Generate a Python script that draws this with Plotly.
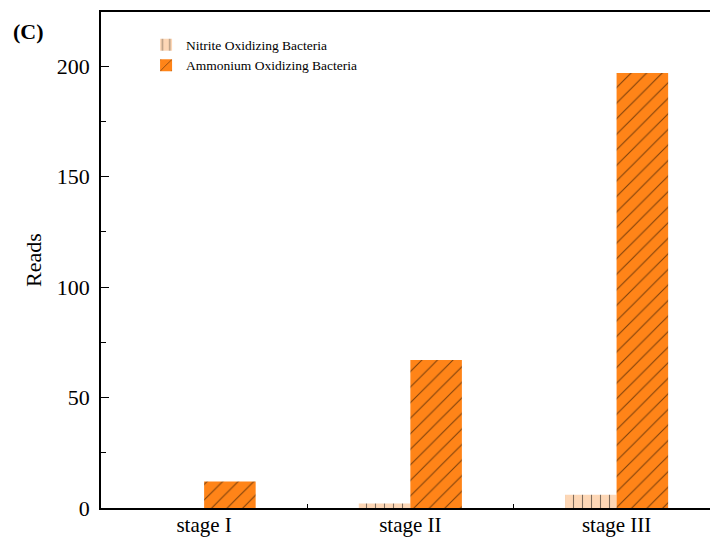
import plotly.graph_objects as go

# Sequencing reads of nitrifying groups across the three operating stages
stages = ["stage I", "stage II", "stage III"]
nob_reads = [0, 2, 6]        # Nitrite Oxidizing Bacteria
aob_reads = [12, 67, 197]    # Ammonium Oxidizing Bacteria
y_ticks = [0, 50, 100, 150, 200]

SERIF = "Liberation Serif, Times New Roman, serif"
PEACH = "#FDD7B6"
ORANGE = "#FF8418"

fig = go.Figure()
fig.add_trace(go.Bar(
    x=stages, y=nob_reads, name="Nitrite Oxidizing Bacteria",
    marker=dict(color=PEACH, line=dict(width=0),
                pattern=dict(shape="|", fgcolor="black", size=9, solidity=0.12)),
))
fig.add_trace(go.Bar(
    x=stages, y=aob_reads, name="Ammonium Oxidizing Bacteria",
    marker=dict(color=ORANGE, line=dict(width=0),
                pattern=dict(shape="/", fgcolor="black", size=11, solidity=0.1)),
))

fig.update_layout(
    width=710, height=538,
    margin=dict(l=101, r=0, t=12, b=30),
    paper_bgcolor="white", plot_bgcolor="white",
    barmode="group", bargap=0.5, bargroupgap=0,
    font=dict(family=SERIF, size=22, color="black"),
    showlegend=True,
    legend=dict(x=0.074, y=0.965, xanchor="left", yanchor="top",
                font=dict(family=SERIF, size=13.5), bgcolor="rgba(0,0,0,0)",
                tracegroupgap=0),
    annotations=[dict(text="<b>(C)</b>", xref="paper", yref="paper",
                      x=-0.148, y=0.96, xanchor="left", yanchor="middle",
                      showarrow=False, font=dict(family=SERIF, size=22))],
)

fig.update_xaxes(
    range=[-0.5, 2.453], showline=True, linecolor="black", linewidth=1.6,
    mirror=True, ticks="inside", ticklen=4, tickwidth=1.2, tickcolor="black",
    tickson="boundaries", showgrid=False, zeroline=False, automargin=False,
    tickfont=dict(family=SERIF, size=21), ticklabelstandoff=-3,
)
fig.update_yaxes(
    range=[0, 224.6], tickvals=y_ticks, showline=True, linecolor="black",
    linewidth=1.6, mirror=False, ticks="inside", ticklen=8, tickwidth=1.2,
    tickcolor="black", showgrid=False, zeroline=False, automargin=False,
    minor=dict(dtick=25, ticks="inside", ticklen=5, tickwidth=1.2,
               tickcolor="black", showgrid=False),
    tickfont=dict(family=SERIF, size=22),
    ticklabelstandoff=5,
    title=dict(text="Reads", font=dict(family=SERIF, size=22), standoff=9),
)

fig.write_html("out.html")
